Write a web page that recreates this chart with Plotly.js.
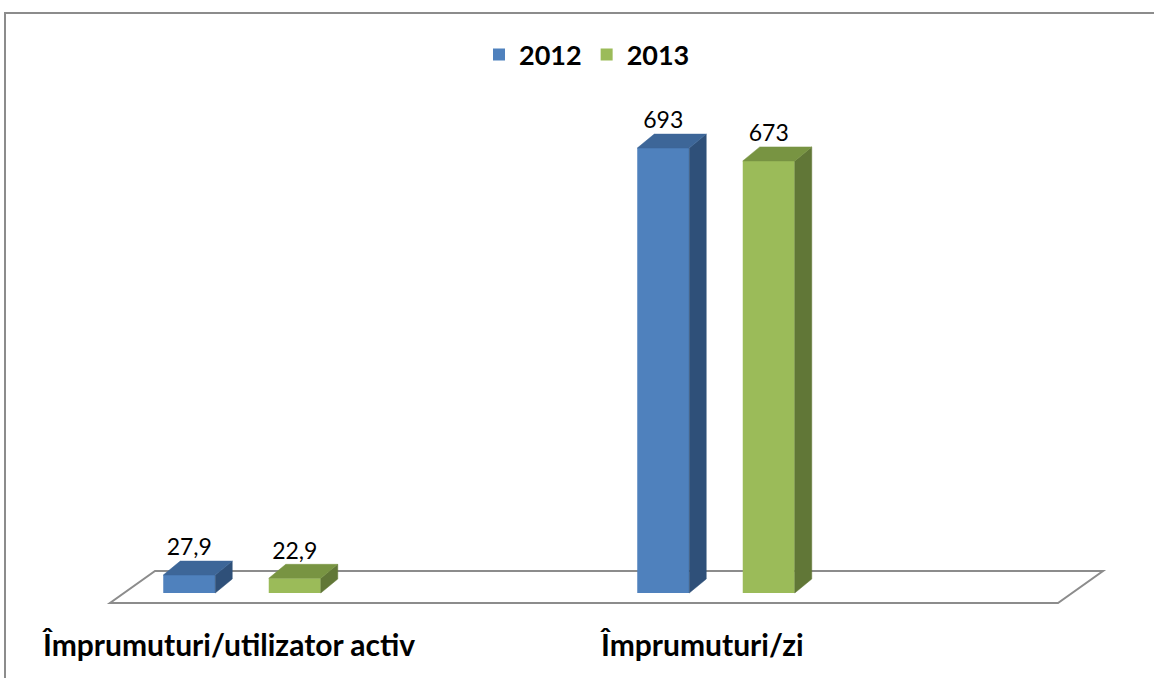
<!DOCTYPE html>
<html><head><meta charset="utf-8">
<script src="https://cdn.plot.ly/plotly-3.0.1.min.js"></script>
<style>
html,body{margin:0;padding:0;background:#fff;overflow:hidden}
#chart{width:1154px;height:678px;position:absolute;left:0;top:0}
#frame{position:absolute;left:4px;top:12px;width:1300px;height:800px;border-left:2px solid #8c8c8c;border-top:2px solid #8c8c8c;pointer-events:none}
</style></head><body>
<div id="chart"></div><div id="frame"></div>
<script>
// ---- data ----
const categories = ['Împrumuturi/utilizator activ', 'Împrumuturi/zi'];
const seriesNames = ['2012', '2013'];
const values2012 = [27.9, 693];
const values2013 = [22.9, 673];

// ---- styles ----
const frontColors = ['#4F81BD', '#9BBB59'];
const topColors = ['#3D6698', '#789442'];
const sideColors = ['#2F5079', '#617737'];
const FONT = 'Lato, "Open Sans", sans-serif';

// ---- geometry (pixels -> data units) ----
const W = 1154, H = 678;
const L = 100, R = 44, T = 90, B = 58;
const catPx = 474, xPx0 = 242;      // px per category, px of category 0
const yPerUnit = 0.642, basePx = 593;
const xr = [(L - xPx0) / catPx, (W - R - xPx0) / catPx];
const yr = [(basePx - (H - B)) / yPerUnit, (basePx - T) / yPerUnit];
const dxD = 17 / catPx, dyD = 14 / yPerUnit;   // bar depth
const barW = 52 / catPx, slot = 105.5 / catPx;

const seriesVals = [values2012, values2013];
const traces = [];
const sideTraces = [], topTraces = [], textTraces = [];
seriesVals.forEach((vals, s) => {
  const xs = categories.map((c, i) => i + (s === 0 ? -slot / 2 : slot / 2));
  traces.push({
    type: 'bar', name: seriesNames[s], x: xs, y: vals, width: barW,
    marker: {color: frontColors[s], line: {width: 0}}, showlegend: true
  });
  const sx = [], sy = [], tx = [], ty = [];
  vals.forEach((v, i) => {
    const xl = xs[i] - barW / 2, xrt = xs[i] + barW / 2;
    sx.push(xrt, xrt + dxD, xrt + dxD, xrt, xrt, null);
    sy.push(0, dyD, v + dyD, v, 0, null);
    tx.push(xl, xrt, xrt + dxD, xl + dxD, xl, null);
    ty.push(v, v, v + dyD, v + dyD, v, null);
  });
  sideTraces.push({type: 'scatter', mode: 'lines', x: sx, y: sy, fill: 'toself',
    fillcolor: sideColors[s], line: {color: sideColors[s], width: 0.5}, showlegend: false, hoverinfo: 'skip'});
  topTraces.push({type: 'scatter', mode: 'lines', x: tx, y: ty, fill: 'toself',
    fillcolor: topColors[s], line: {color: topColors[s], width: 0.5}, showlegend: false, hoverinfo: 'skip'});
  textTraces.push({type: 'scatter', mode: 'text', x: xs, y: vals.map(v => v + dyD),
    text: vals.map(v => String(v).replace('.', ',')), textposition: 'top center',
    textfont: {family: FONT, size: 23, color: '#000'}, cliponaxis: false, showlegend: false, hoverinfo: 'skip'});
});

// floor parallelogram
const fy0 = (basePx - 603) / yPerUnit, fy1 = (basePx - 571) / yPerUnit;
const fx0 = (110 - xPx0) / catPx, fx1 = (1058 - xPx0) / catPx, fdx = 45 / catPx;
const floorPath = `M${fx0},${fy0} L${fx1},${fy0} L${fx1 + fdx},${fy1} L${fx0 + fdx},${fy1} Z`;

const plotH = H - T - B;
const annotations = categories.map((c, i) => ({
  text: c, x: i - 14 / catPx, y: -(644 - (H - B)) / plotH, xref: 'x', yref: 'paper',
  xanchor: 'center', yanchor: 'middle', showarrow: false,
  font: {family: FONT, size: 30, color: '#000', weight: 'bold'}
}));

const layout = {
  width: W, height: H, margin: {l: L, r: R, t: T, b: B},
  paper_bgcolor: '#fff', plot_bgcolor: '#fff',
  barmode: 'overlay', hovermode: false,
  xaxis: {range: xr, visible: false, fixedrange: true},
  yaxis: {range: yr, visible: false, fixedrange: true},
  shapes: [{type: 'path', path: floorPath, xref: 'x', yref: 'y', layer: 'below',
    line: {color: '#8c8c8c', width: 2}, fillcolor: '#fff'}],
  annotations: annotations,
  legend: {orientation: 'h', xref: 'container', yref: 'container', x: 587 / W, y: 1 - 55 / H,
    xanchor: 'center', yanchor: 'middle',
    font: {family: FONT, size: 27, color: '#000', weight: 'bold'}, bgcolor: 'rgba(0,0,0,0)'}
};

Plotly.newPlot('chart', traces.concat(sideTraces, topTraces, textTraces), layout,
  {displayModeBar: false, staticPlot: true});
</script>
</body></html>
